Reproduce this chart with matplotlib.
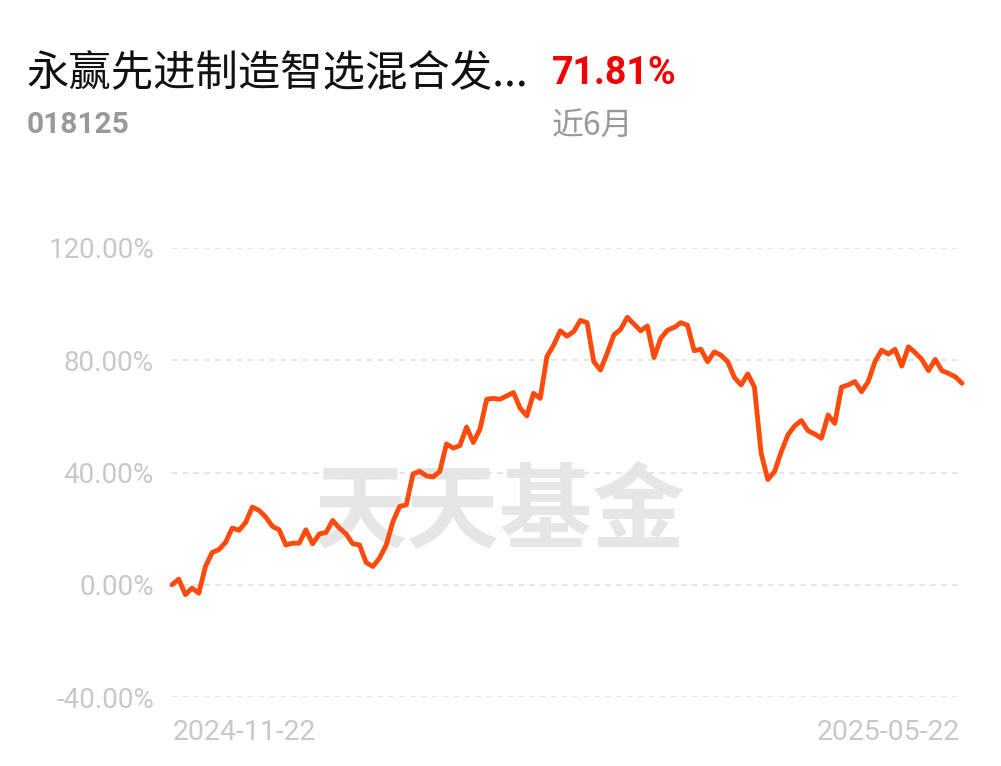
import numpy as np
import matplotlib.pyplot as plt
import logging

logging.getLogger('matplotlib.font_manager').setLevel(logging.ERROR)
plt.rcParams['font.family'] = ['Noto Sans CJK SC', 'DejaVu Sans']

# Fund info
fund_name = '永赢先进制造智选混合发...'
fund_code = '018125'
period_return = '71.81%'
period_label = '近6月'
start_date = '2024-11-22'
end_date = '2025-05-22'

# Cumulative return (%), one value per trading day
returns = [
    0.0, 2.0, -3.5, -1.2, -3.0, 6.5, 11.5, 12.5, 15.1, 20.2,
    19.4, 22.2, 27.7, 26.5, 24.1, 20.8, 19.6, 14.2, 14.8, 14.8,
    19.6, 14.6, 18.1, 18.6, 22.9, 20.2, 18.1, 14.6, 14.2, 7.9,
    6.5, 9.5, 14.2, 22.5, 27.9, 28.5, 39.5, 40.4, 38.8, 38.4,
    40.4, 50.2, 48.7, 49.6, 56.2, 50.7, 55.4, 66.1, 66.4, 66.1,
    67.3, 68.5, 62.9, 60.2, 68.2, 66.4, 81.3, 85.4, 90.5, 88.6,
    90.2, 94.2, 93.4, 79.5, 76.5, 82.5, 89.0, 91.0, 95.3, 92.9,
    90.5, 92.2, 81.0, 87.8, 90.7, 91.7, 93.4, 92.5, 83.4, 83.9,
    79.5, 83.0, 81.8, 79.5, 73.9, 71.2, 75.1, 70.4, 46.8, 37.5,
    40.3, 47.4, 53.4, 56.6, 58.5, 54.9, 53.7, 52.2, 60.5, 57.5,
    70.4, 71.2, 72.4, 68.8, 72.4, 79.5, 83.6, 82.2, 83.9, 77.9,
    84.8, 82.7, 80.3, 76.3, 80.3, 76.3, 75.3, 74.1, 71.81,
]
yticks = [-40, 0, 40, 80, 120]

num_font = ['Roboto', 'DejaVu Sans']

fig = plt.figure(figsize=(10.01, 7.66), dpi=100)
ax = fig.add_axes([172 / 1001, 1 - 697 / 766, (962 - 172) / 1001, (697 - 248) / 766])

x = np.arange(len(returns))
ax.plot(x, returns, color='#ff4a0d', lw=3.5, solid_joinstyle='round', solid_capstyle='round',
        zorder=3, clip_on=False)

ax.set_xlim(0, len(returns) - 1)
ax.set_ylim(-40, 120)
ax.set_yticks(yticks)
ax.set_yticklabels([f'{v:.2f}%' for v in yticks], color='#c8c8c8', fontsize=20,
                   family=num_font)
ax.tick_params(axis='y', length=0, pad=13)
ax.set_xticks([])
for s in ax.spines.values():
    s.set_visible(False)
for v in yticks:
    ax.axhline(v, color='#e3e3e3', lw=1.3, ls=(0, (3, 3)), zorder=1)

# watermark
ax.text(0.414, 0.41, '天天基金', transform=ax.transAxes, ha='center', va='center',
        fontsize=67, fontweight='bold', color='#e6e6e6', zorder=0)

# date labels
fig.text(173 / 1001, 1 - 733 / 766, start_date, ha='left', va='center', fontsize=20.5,
         color='#c8c8c8', family=num_font)
fig.text(960 / 1001, 1 - 733 / 766, end_date, ha='right', va='center', fontsize=20.5,
         color='#c8c8c8', family=num_font)

# header
fig.text(27 / 1001, 1 - 74 / 766, fund_name, ha='left', va='center', fontsize=30.5, color='#111111')
fig.text(552 / 1001, 1 - 74 / 766, period_return, ha='left', va='center', fontsize=27,
         fontweight='bold', color='#f50000', family=num_font)
fig.text(27 / 1001, 1 - 125 / 766, fund_code, ha='left', va='center', fontsize=21.5,
         fontweight='bold', color='#999999', family=num_font)
fig.text(552 / 1001, 1 - 126 / 766, period_label, ha='left', va='center', fontsize=23, color='#999999')

fig.savefig('out.png', dpi=100)
